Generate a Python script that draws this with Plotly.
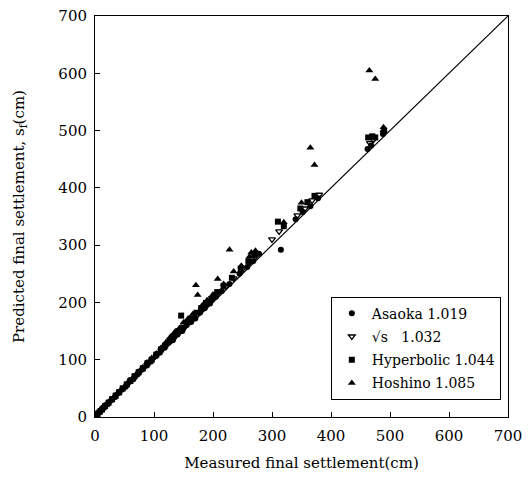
import plotly.graph_objects as go

# ---- data ----
asaoka_x = [2, 5, 9, 13, 17, 22, 28, 34, 40, 46, 52, 58, 65, 72, 80, 88, 95, 103, 110, 118, 125, 132, 140, 148, 155, 163, 170, 178, 186, 195, 205, 215, 228, 245, 258, 268, 278, 315, 340, 352, 365, 378, 462, 468, 488]
asaoka_y = [3, 6, 10, 15, 18, 23, 30, 35, 42, 48, 53, 61, 66, 74, 83, 90, 97, 106, 112, 121, 130, 134, 144, 150, 160, 166, 172, 182, 190, 198, 210, 220, 232, 250, 262, 272, 285, 292, 345, 358, 368, 382, 468, 474, 494]

sqrt_x = [3, 7, 11, 16, 21, 26, 31, 37, 43, 49, 55, 62, 69, 76, 83, 90, 98, 105, 113, 120, 127, 134, 142, 150, 157, 165, 173, 181, 190, 200, 210, 222, 235, 250, 262, 272, 300, 312, 343, 356, 368, 380, 466, 472, 489]
sqrt_y = [4, 8, 12, 17, 22, 27, 33, 39, 45, 51, 57, 65, 72, 79, 86, 93, 101, 109, 117, 124, 131, 139, 147, 155, 163, 171, 178, 187, 196, 206, 218, 228, 242, 258, 270, 280, 310, 324, 352, 364, 378, 388, 478, 484, 497]

hyper_x = [4, 8, 12, 17, 23, 29, 35, 41, 47, 54, 60, 67, 74, 81, 89, 96, 104, 112, 119, 126, 133, 141, 146, 149, 156, 164, 172, 180, 188, 197, 207, 218, 232, 247, 260, 270, 310, 320, 348, 360, 372, 463, 470, 475, 490]
hyper_y = [5, 9, 13, 19, 25, 31, 37, 43, 50, 57, 63, 71, 78, 85, 94, 100, 109, 118, 125, 133, 140, 150, 177, 156, 165, 172, 182, 190, 199, 206, 218, 229, 243, 259, 272, 283, 341, 333, 364, 375, 386, 488, 490, 488, 500]

hoshino_x = [3, 8, 13, 19, 25, 31, 38, 45, 52, 59, 66, 73, 81, 88, 96, 104, 112, 120, 128, 135, 143, 150, 158, 166, 171, 174, 182, 190, 200, 208, 218, 228, 235, 248, 262, 265, 272, 320, 350, 365, 372, 465, 475, 489]
hoshino_y = [4, 10, 15, 21, 28, 34, 42, 49, 56, 64, 71, 79, 87, 95, 103, 111, 121, 130, 140, 148, 155, 165, 172, 180, 230, 213, 195, 204, 214, 241, 232, 292, 254, 264, 280, 287, 290, 340, 374, 470, 440, 605, 590, 506]

line_xy = [0, 700]
ticks = [0, 100, 200, 300, 400, 500, 600, 700]

FONT = "DejaVu Serif"

fig = go.Figure()
fig.add_trace(go.Scatter(x=line_xy, y=line_xy, mode="lines",
                         line=dict(color="black", width=1.2), showlegend=False, hoverinfo="skip"))
fig.add_trace(go.Scatter(x=asaoka_x, y=asaoka_y, mode="markers", name="Asaoka 1.019", legendgroup="a",
                         marker=dict(symbol="circle", size=6, color="black")))
fig.add_trace(go.Scatter(x=sqrt_x, y=sqrt_y, mode="markers", name="√s   1.032", legendgroup="b",
                         marker=dict(symbol="triangle-down-open", size=6, color="black", line=dict(width=1.3))))
fig.add_trace(go.Scatter(x=hyper_x, y=hyper_y, mode="markers", name="Hyperbolic 1.044", legendgroup="c",
                         marker=dict(symbol="square", size=6, color="black")))
fig.add_trace(go.Scatter(x=hoshino_x, y=hoshino_y, mode="markers", name="Hoshino 1.085", legendgroup="d",
                         marker=dict(symbol="triangle-up", size=7, color="black")))

axis_common = dict(range=[0, 700], tickvals=ticks, showgrid=False, zeroline=False,
                   showline=True, linecolor="black", linewidth=1, mirror=True,
                   ticks="inside", ticklen=5, tickcolor="black",
                   ticklabeloverflow="allow",
                   tickfont=dict(family=FONT, size=15, color="black"))

fig.update_layout(
    width=529, height=478,
    margin=dict(l=95, r=17, t=7, b=61),
    paper_bgcolor="white", plot_bgcolor="white",
    font=dict(family=FONT, color="black"),
    xaxis=dict(**axis_common,
               title=dict(text="Measured final settlement(cm)", font=dict(family=FONT, size=15), standoff=13),
               ticklabelstandoff=5),
    yaxis=dict(**axis_common,
               title=dict(text="Predicted final settlement, s<sub>f</sub>(cm)", font=dict(family=FONT, size=15), standoff=30),
               ticklabelstandoff=4),
    legend=dict(x=0.571, y=0.30, xanchor="left", yanchor="top",
                bordercolor="black", borderwidth=1, bgcolor="white",
                font=dict(family=FONT, size=14, color="black"),
                itemwidth=30, tracegroupgap=2),
    showlegend=True,
)

fig.write_html("out.html", config={"displayModeBar": False},
               post_script="document.body.style.margin='0';document.body.style.overflow='hidden';")
